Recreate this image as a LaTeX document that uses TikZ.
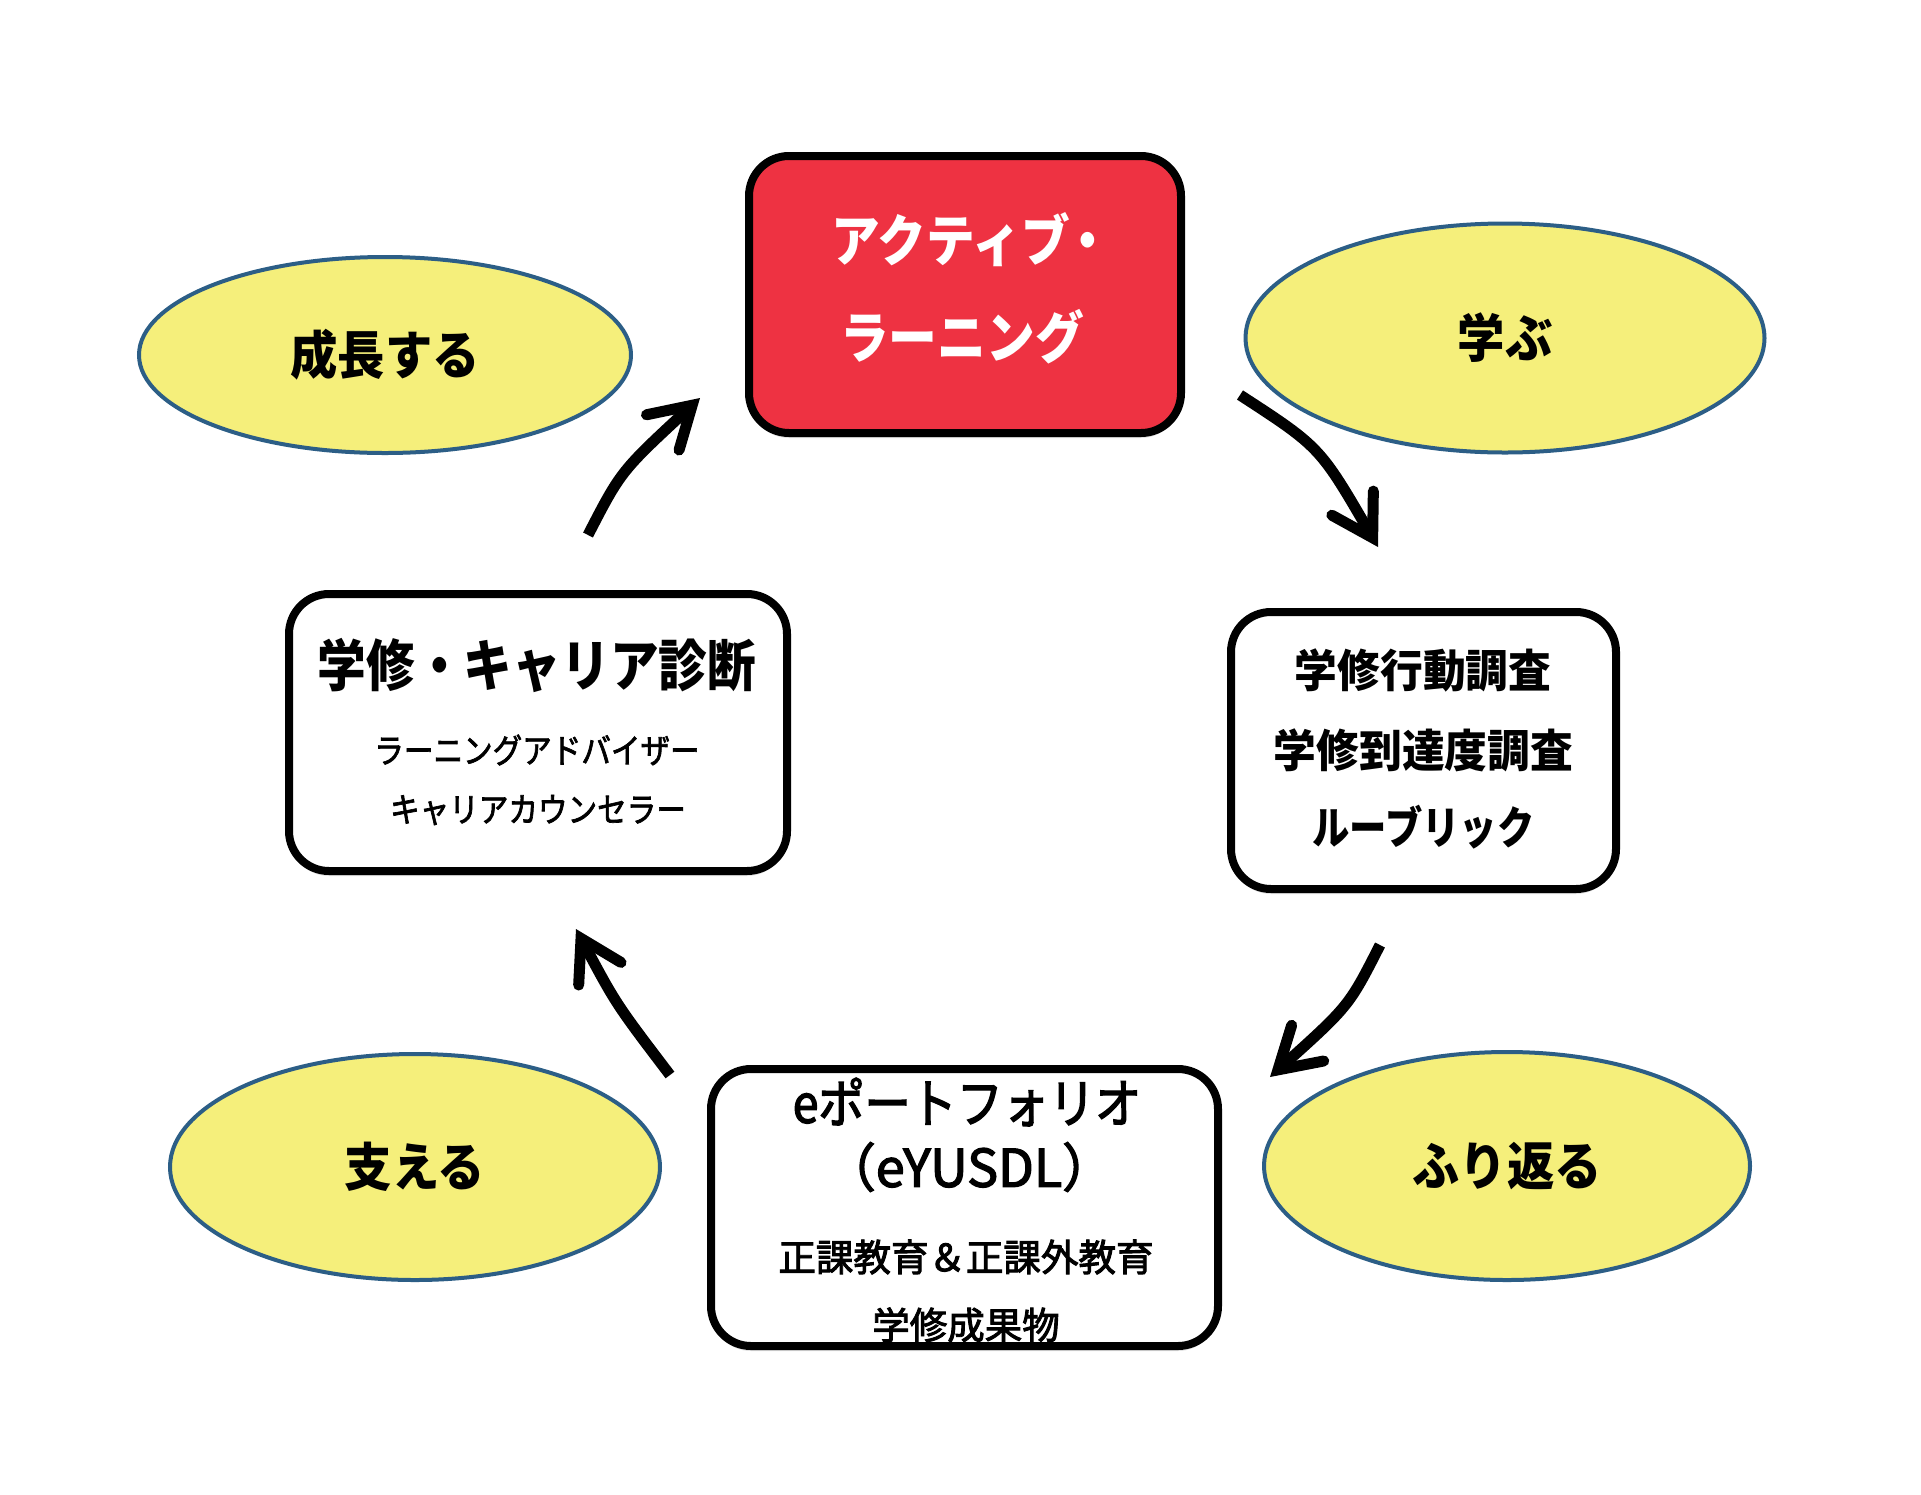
\documentclass[tikz,border=0pt]{standalone}
\usepackage{fontspec}
\newfontfamily\jpn[FakeStretch=0.83]{Noto Sans CJK JP}
\newfontfamily\jpm[FakeStretch=0.87]{Noto Sans CJK JP}
\newfontfamily\jpmb[FakeStretch=0.87,FakeBold=2]{Noto Sans CJK JP}
\newfontfamily\jpe[FakeStretch=0.91]{Noto Sans CJK JP}
\newfontfamily\jpw[FakeStretch=0.95]{Noto Sans CJK JP}
\newfontfamily\jpf[FakeBold=2.5]{Noto Sans CJK JP}
\newfontfamily\jpfb[FakeStretch=0.87,FakeBold=2.5]{Noto Sans CJK JP}
\usetikzlibrary{shapes.geometric,arrows.meta,shadows}
\definecolor{ellfill}{RGB}{245,239,123}
\definecolor{ellline}{RGB}{44,94,134}
\definecolor{alred}{RGB}{238,50,66}
\begin{document}
\begin{tikzpicture}[x=1pt,y=-1pt,
  oval/.style={ellipse, draw=ellline, line width=4pt, fill=ellfill, inner sep=0pt,
    font=\jpe\bfseries\fontsize{52}{60}\selectfont},
  card/.style={rectangle, rounded corners=40pt, draw=black, line width=8pt, fill=white,
    inner sep=0pt, drop shadow={opacity=0.22, shadow xshift=0pt, shadow yshift=-5pt}},
  flow/.style={line width=11pt, line cap=butt,
    -{Straight Barb[length=40pt,width=48pt,line cap=round,line join=miter]}},
  ttl/.style={inner sep=0pt, font=\jpm\bfseries\fontsize{56}{97}\selectfont, align=center},
  sub/.style={inner sep=0pt, font=\jpmb\fontsize{34}{40}\selectfont},
  rline/.style={inner sep=0pt, font=\jpw\bfseries\fontsize{45}{50}\selectfont},
  pline/.style={inner sep=0pt, font=\jpfb\fontsize{53}{60}\selectfont},
  pline2/.style={inner sep=0pt, font=\jpf\fontsize{37.5}{44}\selectfont}]
\useasboundingbox (0,0) rectangle (1921,1494);
\fill[white] (0,0) rectangle (1921,1494);

% ellipses
\node[oval, minimum width=492pt, minimum height=196pt] (grow) at (385,355) {成長する};
\node[oval, minimum width=519pt, minimum height=229pt] (learn) at (1505,338) {学ぶ};
\node[oval, minimum width=490pt, minimum height=226pt] (support) at (415,1167) {支える};
\node[oval, minimum width=486pt, minimum height=228pt] (reflect) at (1507,1166) {ふり返る};

% boxes
\node[card, fill=alred, minimum width=432pt, minimum height=277pt] (al) at (965,294.5) {};
\node[card, minimum width=498pt, minimum height=277pt] (diag) at (538,732.5) {};
\node[card, minimum width=385pt, minimum height=277pt] (survey) at (1423.5,750.5) {};
\node[card, minimum width=507pt, minimum height=277pt] (port) at (964.5,1207.5) {};

% texts
\node[ttl, text=white] (altxt) at (962,288) {アクティブ\kern-6pt・\kern-20pt\\ラーニング};

\node[ttl, font=\jpm\bfseries\fontsize{56}{60}\selectfont] (diag1) at (537,665) {学修・キャリア診断};
\node[sub] (diag2) at (537,750) {ラーニングアドバイザー};
\node[sub] (diag3) at (538,810) {キャリアカウンセラー};

\node[rline] (sv1) at (1423,670) {学修行動調査};
\node[rline] (sv2) at (1423.5,750) {学修到達度調査};
\node[rline, font=\jpn\bfseries\fontsize{45}{50}\selectfont] (sv3) at (1423.5,827) {ルーブリック};

\node[pline] (pt1) at (967,1102) {eポートフォリオ};
\node[pline, font=\jpf\fontsize{52}{60}\selectfont] (pt2) at (969,1167) {（eYUSDL）};
\node[pline2] (pt3) at (966,1257) {正課教育＆正課外教育};
\node[pline2] (pt4) at (966,1325) {学修成果物};

% arrows
\coordinate (a1s) at (588,535);  \coordinate (a1e) at (700,398);
\coordinate (a2s) at (1240,395); \coordinate (a2e) at (1378,547);
\coordinate (a3s) at (1380,945); \coordinate (a3e) at (1270,1077);
\coordinate (a4s) at (670,1075); \coordinate (a4e) at (576,929);
\draw[flow] (a1s) .. controls (621,471) .. (a1e);
\draw[flow] (a2s) .. controls (1320,447) .. (a2e);
\draw[flow] (a3s) .. controls (1349,1006) .. (a3e);
\draw[flow] (a4s) .. controls (616,1004) .. (a4e);
\end{tikzpicture}
\end{document}
